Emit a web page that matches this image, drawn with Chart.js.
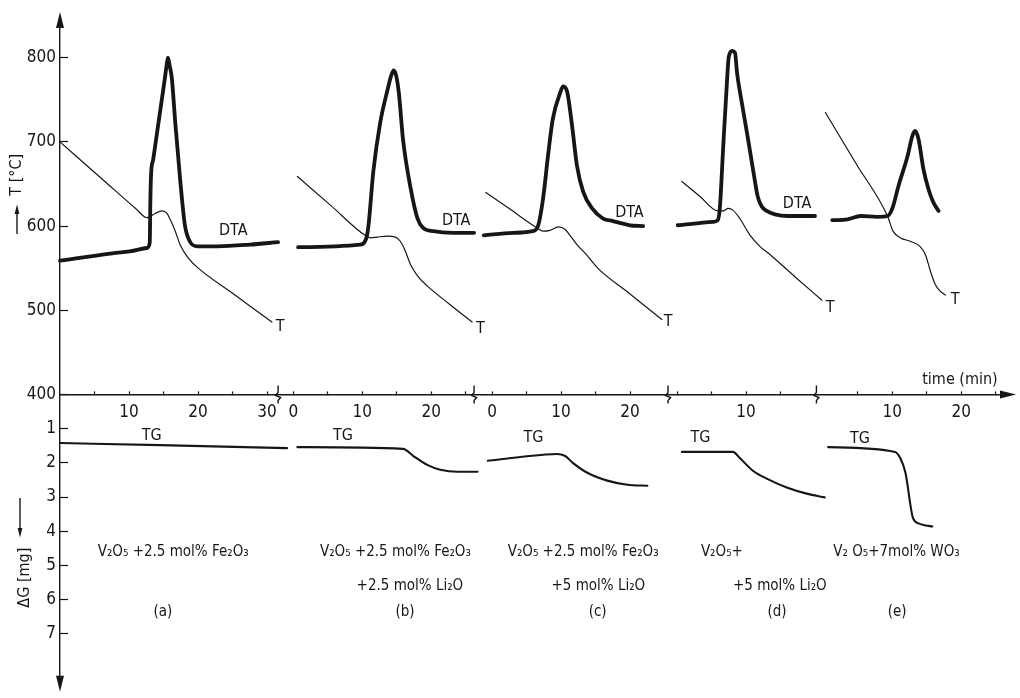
<!DOCTYPE html>
<html>
<head>
<meta charset="utf-8">
<script src="https://cdn.jsdelivr.net/npm/chart.js@4.4.1/dist/chart.umd.min.js"></script>
<style>
  html, body { margin: 0; padding: 0; background: #fff; }
</style>
</head>
<body>
<canvas id="grafico" width="1020" height="698"></canvas>
<script>
// 1. DATOS LEÍDOS DE LA FIGURA
// tiempo en min dentro de cada panel; cada panel arranca en su propio 0 del eje común
const paneles = ['a', 'b', 'c', 'd', 'e'];
const inicioPanel = [0, 33.8, 62.6, 89.4, 110.6];
const cortesEje = [31.6, 60.0, 88.1, 109.6];

const ticksPanel = [[5, 10, 15, 20, 25, 30], [0, 5, 10, 15, 20, 25], [0, 5, 10, 15, 20], [0, 5, 10, 15], [5, 10, 15, 20, 25]];
const rotulosPanel = [[10, 20, 30], [0, 10, 20], [0, 10, 20], [10], [10, 20]];
const ticksT = [400, 500, 600, 700, 800];
const ticksG = [1, 2, 3, 4, 5, 6, 7];

// DTA (unidades del eje T)
const dtaTiempoA = [0, 10.1, 12.6, 13.0, 13.1, 13.2, 13.5, 14.1, 14.8, 15.2, 15.5, 15.65, 15.9, 16.2, 16.7, 17.4, 18.1, 18.8, 19.9, 22.8, 27.5, 31.6];
const dtaA = [559, 570, 574, 580, 633, 662, 679, 713, 753, 776, 794, 800, 790, 776, 723, 656, 601, 582, 576, 576, 578, 581];
const dtaTiempoB = [0.7, 9.7, 10.6, 10.9, 11.6, 12.6, 13.6, 14.2, 14.55, 14.9, 15.3, 15.9, 17.0, 18.0, 18.8, 20.3, 23.2, 26.2];
const dtaB = [575, 578, 586, 601, 665, 723, 760, 779, 785, 779, 758, 703, 645, 609, 598, 594, 592, 592];
const dtaTiempoC = [-1.2, 3.0, 5.9, 6.7, 7.4, 8.1, 8.8, 9.9, 10.3, 10.9, 11.6, 12.3, 13.2, 14.5, 16.1, 17.5, 20.0, 21.9];
const dtaC = [589, 592, 594, 601, 633, 683, 727, 759, 766, 759, 719, 672, 641, 621, 609, 606, 601, 600];
const dtaTiempoD = [0.1, 5.2, 5.9, 6.2, 6.7, 7.2, 7.5, 8.0, 8.4, 8.7, 9.4, 10.3, 11.3, 11.7, 12.3, 13.0, 14.2, 16.0, 20.0];
const dtaD = [601, 605, 607, 621, 695, 766, 801, 808, 806, 782, 746, 703, 653, 635, 623, 618, 614, 612, 612];
const dtaTiempoE = [1.3, 3.5, 5.4, 7.8, 9.3, 10.0, 10.9, 12.2, 12.9, 13.3, 13.8, 14.5, 15.2, 15.9, 16.7];
const dtaE = [607, 608, 612, 611, 612, 621, 648, 683, 707, 713, 703, 668, 645, 629, 618];

// temperatura T [°C]
const tempTiempoA = [0, 6.3, 11.0, 12.6, 13.0, 13.8, 14.8, 15.5, 15.9, 16.7, 17.4, 18.6, 19.9, 25.3, 30.7];
const tempA = [700, 654.5, 620.6, 610, 611, 615, 618, 615, 609, 594, 578, 562, 551, 518.5, 486];
const tempTiempoB = [0.6, 5.5, 10.4, 11.2, 12.2, 13.6, 14.8, 15.5, 16.2, 17.0, 18.0, 19.4, 22.6, 25.9];
const tempB = [659, 624, 589, 586, 587, 588, 587, 582, 571, 554, 541, 529, 507.5, 486];
const tempTiempoC = [-0.9, 2.8, 6.5, 7.4, 8.4, 9.6, 10.6, 11.3, 12.3, 13.8, 15.2, 19.9, 24.6];
const tempC = [640, 619, 598, 594, 595, 599, 596, 589, 578, 565, 551, 520, 489];
const tempTiempoD = [0.7, 3.3, 5.9, 6.7, 7.4, 8.1, 9.1, 10.6, 12.0, 13.5, 17.2, 21.0];
const tempD = [653, 635.5, 618, 618, 621, 619, 609, 589, 576, 566, 539, 512];
const tempTiempoE = [0.3, 4.8, 9.3, 10.1, 11.2, 12.6, 14.0, 14.8, 15.5, 16.2, 16.9, 17.7];
const tempE = [735, 673.5, 612, 594, 586, 582, 576, 566, 547, 531, 523, 518];

// TG, pérdida de masa ΔG [mg]
const tgTiempoA = [0, 14.5, 32.9];
const tgA = [1.42, 1.48, 1.57];
const tgTiempoB = [0.6, 15.9, 17.4, 19.4, 21.3, 23.8, 26.7];
const tgB = [1.54, 1.59, 1.80, 2.06, 2.20, 2.26, 2.26];
const tgTiempoC = [-0.6, 4.1, 9.4, 10.6, 11.7, 13.8, 16.7, 19.6, 22.5];
const tgC = [1.94, 1.83, 1.74, 1.80, 2.00, 2.29, 2.52, 2.64, 2.67];
const tgTiempoD = [0.7, 8.1, 9.1, 11.0, 13.0, 15.9, 18.8, 21.4];
const tgD = [1.68, 1.68, 1.86, 2.23, 2.46, 2.72, 2.90, 3.01];
const tgTiempoE = [0.7, 10.4, 11.2, 11.9, 13.0, 13.8, 14.8, 15.8];
const tgE = [1.54, 1.68, 1.88, 2.29, 3.62, 3.77, 3.83, 3.86];

// textos de cada muestra
const muestraLinea1 = ['V₂O₅ +2.5 mol% Fe₂O₃', 'V₂O₅ +2.5 mol% Fe₂O₃', 'V₂O₅ +2.5 mol% Fe₂O₃', 'V₂O₅+', 'V₂ O₅+7mol% WO₃'];
const muestraLinea2 = ['', '+2.5 mol% Li₂O', '+5 mol% Li₂O', '+5 mol% Li₂O', ''];

// 2. ESTILO Y UBICACIÓN DE ROTULOS (min del panel, valor del eje)
const tinta = '#161616';
const fuente = "'Liberation Sans Narrow', 'DejaVu Sans Condensed', 'Liberation Sans', sans-serif";
const rotuloDTA = [[25.1, 594], [23.6, 606], [19.9, 616], [17.4, 627], null];
const rotuloT = [[31.9, 480], [27.1, 478], [25.5, 486], [22.2, 503], [19.1, 512]];
const rotuloTG = [[13.3, 1.22], [7.2, 1.22], [6.0, 1.28], [3.4, 1.28], [5.3, 1.30]];
const xLinea1 = [16.4, 14.8, 13.2, 6.5, 10.6];
const xLinea2 = [null, 16.9, 15.4, 14.9, null];
const xLetra = [14.9, 16.2, 15.3, 14.5, 10.7];

function serie(inicio, tiempos, valores) {
    return tiempos.map((t, i) => ({ x: inicio + t, y: valores[i] }));
}

const tiemposDTA = [dtaTiempoA, dtaTiempoB, dtaTiempoC, dtaTiempoD, dtaTiempoE];
const valoresDTA = [dtaA, dtaB, dtaC, dtaD, dtaE];
const tiemposT = [tempTiempoA, tempTiempoB, tempTiempoC, tempTiempoD, tempTiempoE];
const valoresT = [tempA, tempB, tempC, tempD, tempE];
const tiemposTG = [tgTiempoA, tgTiempoB, tgTiempoC, tgTiempoD, tgTiempoE];
const valoresTG = [tgA, tgB, tgC, tgD, tgE];

const estiloLinea = { borderColor: tinta, backgroundColor: tinta, pointRadius: 0, fill: false, clip: false,
    cubicInterpolationMode: 'monotone', borderCapStyle: 'round', borderJoinStyle: 'round' };

const datasets = [];
paneles.forEach((p, i) => {
    datasets.push({ ...estiloLinea, label: 'DTA ' + p, data: serie(inicioPanel[i], tiemposDTA[i], valoresDTA[i]), yAxisID: 'y', borderWidth: 3.8 });
    datasets.push({ ...estiloLinea, label: 'T ' + p, data: serie(inicioPanel[i], tiemposT[i], valoresT[i]), yAxisID: 'y', borderWidth: 1.2 });
    datasets.push({ ...estiloLinea, label: 'TG ' + p, data: serie(inicioPanel[i], tiemposTG[i], valoresTG[i]), yAxisID: 'yG', borderWidth: 2.1 });
});

// ticks del eje de tiempo: cada panel con su propio cero
const ticksTiempo = [];
ticksPanel.forEach((lista, i) => {
    lista.forEach(m => ticksTiempo.push({ value: inicioPanel[i] + m, lbl: rotulosPanel[i].includes(m) ? String(m) : '' }));
});

// 3. DECORACIÓN: flechas, cortes del eje y rótulos
function texto(ctx, s, px, py, size, align) {
    ctx.font = size + 'px ' + fuente;
    ctx.textAlign = align || 'center';
    ctx.textBaseline = 'middle';
    ctx.fillText(s, px, py);
}

function punta(ctx, x, y, dx, dy) {
    const largo = 16, ancho = 4;
    ctx.beginPath();
    ctx.moveTo(x + dx * largo, y + dy * largo);
    ctx.lineTo(x - dy * ancho, y + dx * ancho);
    ctx.lineTo(x + dy * ancho, y - dx * ancho);
    ctx.closePath();
    ctx.fill();
}

const decoracion = {
    id: 'decoracion',
    afterDraw(chart) {
        const { ctx } = chart;
        const { x, y, yG } = chart.scales;
        const ejeX = y.getPixelForValue(400);
        const ejeY = x.left;
        ctx.save();
        ctx.fillStyle = tinta;
        ctx.strokeStyle = tinta;
        ctx.lineWidth = 1.4;

        punta(ctx, ejeY, y.top, 0, -1);
        punta(ctx, ejeY, yG.bottom, 0, 1);
        punta(ctx, x.right, ejeX, 1, 0);

        // cortes del eje de tiempo
        cortesEje.forEach(c => {
            const px = x.getPixelForValue(c);
            ctx.beginPath();
            ctx.moveTo(px, ejeX - 9);
            ctx.lineTo(px, ejeX - 2);
            ctx.lineTo(px - 2.5, ejeX + 1);
            ctx.lineTo(px + 2.5, ejeX + 3);
            ctx.lineTo(px, ejeX + 6);
            ctx.lineTo(px, ejeX + 9);
            ctx.stroke();
        });

        // títulos de los ejes (girados)
        ctx.save();
        ctx.translate(17, y.getPixelForValue(661));
        ctx.rotate(-Math.PI / 2);
        texto(ctx, 'T [°C]', 0, 0, 16);
        ctx.restore();
        ctx.beginPath();
        ctx.moveTo(17, 234);
        ctx.lineTo(17, 210);
        ctx.stroke();
        punta(ctx, 17, 214, 0, -0.6);

        ctx.save();
        ctx.translate(25, yG.getPixelForValue(5.36));
        ctx.rotate(-Math.PI / 2);
        texto(ctx, 'ΔG [mg]', 0, 0, 16);
        ctx.restore();
        ctx.beginPath();
        ctx.moveTo(20, 498);
        ctx.lineTo(20, 530);
        ctx.stroke();
        punta(ctx, 20, 528, 0, 0.6);

        texto(ctx, 'time (min)', x.getPixelForValue(130.4), y.getPixelForValue(417.6), 16);

        paneles.forEach((p, i) => {
            const x0 = inicioPanel[i];
            if (rotuloDTA[i]) texto(ctx, 'DTA', x.getPixelForValue(x0 + rotuloDTA[i][0]), y.getPixelForValue(rotuloDTA[i][1]), 16);
            texto(ctx, 'T', x.getPixelForValue(x0 + rotuloT[i][0]), y.getPixelForValue(rotuloT[i][1]), 16);
            texto(ctx, 'TG', x.getPixelForValue(x0 + rotuloTG[i][0]), yG.getPixelForValue(rotuloTG[i][1]), 16);
            texto(ctx, muestraLinea1[i], x.getPixelForValue(x0 + xLinea1[i]), yG.getPixelForValue(4.6), 15);
            if (xLinea2[i] !== null) texto(ctx, muestraLinea2[i], x.getPixelForValue(x0 + xLinea2[i]), yG.getPixelForValue(5.62), 15);
            texto(ctx, '(' + p + ')', x.getPixelForValue(x0 + xLetra[i]), yG.getPixelForValue(6.38), 15);
        });
        ctx.restore();
    }
};

// 4. GRÁFICO
const fuenteTicks = { family: fuente, size: 17 };

new Chart(document.getElementById('grafico'), {
    type: 'line',
    data: { datasets },
    options: {
        responsive: false,
        animation: false,
        events: [],
        layout: { padding: { top: 28, bottom: 16, left: 0, right: 20 } },
        plugins: { legend: { display: false }, tooltip: { enabled: false }, colors: { enabled: false } },
        scales: {
            x: {
                type: 'linear', axis: 'x',
                min: 0, max: 136.2,
                position: { y: 400 },
                border: { color: tinta, width: 1.4 },
                grid: { drawOnChartArea: false, tickLength: -4, color: tinta, tickWidth: 1.2 },
                afterBuildTicks: scale => { scale.ticks = ticksTiempo.map(t => ({ value: t.value, lbl: t.lbl })); },
                ticks: {
                    autoSkip: false, maxRotation: 0, padding: 12, color: tinta, font: fuenteTicks,
                    callback: (value, index, ticks) => ticks[index].lbl
                }
            },
            y: {
                type: 'linear', position: 'left', stack: 'eje', stackWeight: 370, weight: 1,
                min: 400, max: 835.3,
                border: { color: tinta, width: 1.4 },
                grid: { drawOnChartArea: false, tickLength: -8, color: tinta, tickWidth: 1.2 },
                afterBuildTicks: scale => { scale.ticks = ticksT.map(v => ({ value: v })); },
                afterFit: scale => { scale.width = 60; },
                ticks: { padding: 12, color: tinta, font: fuenteTicks }
            },
            yG: {
                type: 'linear', position: 'left', stack: 'eje', stackWeight: 284, weight: 0,
                min: 0, max: 8.23, reverse: true,
                border: { color: tinta, width: 1.4 },
                grid: { drawOnChartArea: false, tickLength: -8, color: tinta, tickWidth: 1.2 },
                afterBuildTicks: scale => { scale.ticks = ticksG.map(v => ({ value: v })); },
                afterFit: scale => { scale.width = 60; },
                ticks: { padding: 12, color: tinta, font: fuenteTicks }
            }
        }
    },
    plugins: [decoracion]
});
</script>
</body>
</html>
